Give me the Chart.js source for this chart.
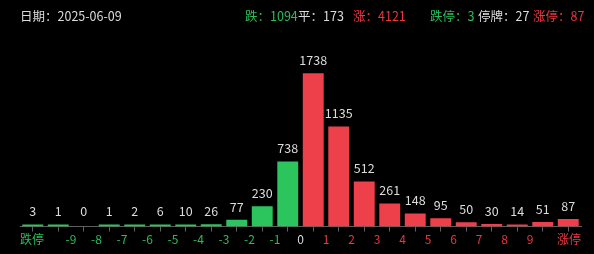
<!DOCTYPE html>
<html>
<head>
<meta charset="utf-8">
<script src="https://cdn.jsdelivr.net/npm/chart.js@4/dist/chart.umd.min.js"></script>
<style>
  html, body { margin: 0; padding: 0; background: #000; }
  #wrap { position: relative; width: 594px; height: 254px; background: #000; overflow: hidden; }
  #chart { position: absolute; left: 0; top: 0; }
  .hdr { position: absolute; top: 7px; font: 12.5px "Noto Sans CJK SC", "Noto Sans", sans-serif; line-height: 18px; white-space: nowrap; }
  .g { color: #2bbd5a; } .w { color: #dcdcdc; } .r { color: #e8373f; }
</style>
</head>
<body>
<div id="wrap">
  <canvas id="chart" width="594" height="254"></canvas>
  <div class="hdr w" id="dateLine" style="left:20px"></div>
  <div class="hdr g" id="sDown" style="left:245px"></div>
  <div class="hdr w" id="sFlat" style="left:298px"></div>
  <div class="hdr r" id="sUp" style="left:353px"></div>
  <div class="hdr g" id="sLimDown" style="left:430px"></div>
  <div class="hdr w" id="sSusp" style="left:478px"></div>
  <div class="hdr r" id="sLimUp" style="left:533px"></div>
</div>
<script>
// Trading day and market breadth summary
const tradeDate = '2025-06-09';
const breadth = { down: 1094, flat: 173, up: 4121 };
const limits = { limitDown: 3, suspended: 27, limitUp: 87 };

// Price-change bins: limit-down, -10~-9 ... -1~0 (falling), 0~1 ... 9~10, limit-up (rising)
const downBins = ['跌停', '-10~-9', '-9~-8', '-8~-7', '-7~-6', '-6~-5', '-5~-4', '-4~-3', '-3~-2', '-2~-1', '-1~0'];
const upBins = ['0~1', '1~2', '2~3', '3~4', '4~5', '5~6', '6~7', '7~8', '8~9', '9~10', '涨停'];
const downCounts = [3, 1, 0, 1, 2, 6, 10, 26, 77, 230, 738];
const upCounts = [1738, 1135, 512, 261, 148, 95, 50, 30, 14, 51, 87];

// Labels sit on the bin boundaries
const boundaryLabels = ['跌停', '', '-9', '-8', '-7', '-6', '-5', '-4', '-3', '-2', '-1', '0',
  '1', '2', '3', '4', '5', '6', '7', '8', '9', '', '涨停'];

const GREEN = '#2cc55d';
const RED = '#ee404b';
const GREEN_TXT = '#2bbd5a';
const RED_TXT = '#e8373f';
const WHITE_TXT = '#dcdcdc';

document.getElementById('dateLine').textContent = '日期：' + tradeDate;
document.getElementById('sDown').textContent = '跌：' + breadth.down;
document.getElementById('sFlat').textContent = '平：' + breadth.flat;
document.getElementById('sUp').textContent = '涨：' + breadth.up;
document.getElementById('sLimDown').textContent = '跌停：' + limits.limitDown;
document.getElementById('sSusp').textContent = '停牌：' + limits.suspended;
document.getElementById('sLimUp').textContent = '涨停：' + limits.limitUp;

const bins = downBins.concat(upBins);
const counts = downCounts.concat(upCounts);
const barColors = counts.map((v, i) => v === 0 ? 'rgba(0,0,0,0)' : (i < downBins.length ? GREEN : RED));

// Count printed above every bar
const valueLabels = {
  id: 'valueLabels',
  afterDatasetsDraw(chart) {
    const ctx = chart.ctx;
    const meta = chart.getDatasetMeta(0);
    ctx.save();
    ctx.font = '12.5px "Noto Sans CJK SC", "Noto Sans", sans-serif';
    ctx.fillStyle = WHITE_TXT;
    ctx.textAlign = 'center';
    ctx.textBaseline = 'middle';
    meta.data.forEach((bar, i) => {
      ctx.fillText(String(counts[i]), bar.x, bar.y - 13);
    });
    ctx.restore();
  }
};

new Chart(document.getElementById('chart'), {
  type: 'bar',
  data: {
    labels: bins,
    datasets: [{
      data: counts,
      backgroundColor: barColors,
      borderWidth: 0,
      minBarLength: 2,
      barPercentage: 0.82,
      categoryPercentage: 1,
      xAxisID: 'x',
      yAxisID: 'y'
    }]
  },
  options: {
    responsive: false,
    animation: false,
    devicePixelRatio: 1,
    layout: { padding: { top: 50, left: 20, right: 13, bottom: 6 } },
    plugins: { legend: { display: false }, tooltip: { enabled: false } },
    scales: {
      x: { type: 'category', display: false, offset: true },
      xb: {
        type: 'category',
        position: 'bottom',
        labels: boundaryLabels,
        offset: false,
        border: { display: true, color: '#5e5e5e', width: 1 },
        grid: { display: true, drawOnChartArea: false, drawTicks: true, tickLength: 5, color: '#5e5e5e' },
        ticks: {
          autoSkip: false,
          maxRotation: 0,
          minRotation: 0,
          align: 'inner',
          padding: 1,
          font: { family: '"Noto Sans CJK SC", "Noto Sans", sans-serif', size: 12 },
          color: (c) => {
            const i = c.index;
            if (i < 11) return GREEN_TXT;
            if (i === 11) return WHITE_TXT;
            return RED_TXT;
          }
        }
      },
      y: { display: false, min: 0, max: 2000 }
    }
  },
  plugins: [valueLabels]
});
</script>
</body>
</html>
